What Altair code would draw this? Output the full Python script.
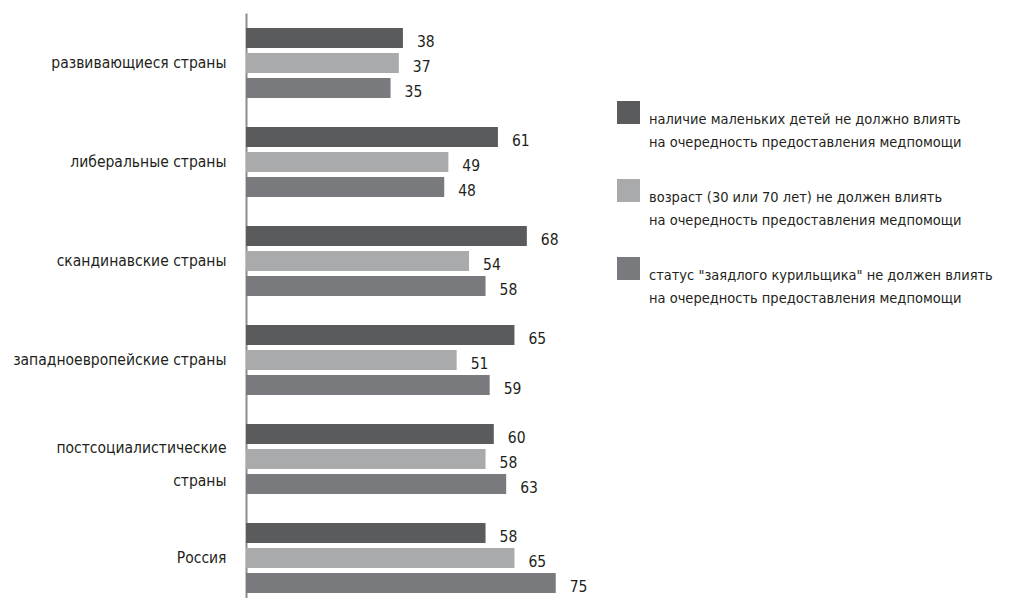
import altair as alt
import pandas as pd

categories = [
    "развивающиеся страны",
    "либеральные страны",
    "скандинавские страны",
    "западноевропейские страны",
    "постсоциалистические страны",
    "Россия",
]
series = [
    "наличие маленьких детей не должно влиять|на очередность предоставления медпомощи",
    "возраст (30 или 70 лет) не должен влиять|на очередность предоставления медпомощи",
    "статус \"заядлого курильщика\" не должен влиять|на очередность предоставления медпомощи",
]
children = [38, 61, 68, 65, 60, 58]
age = [37, 49, 54, 51, 58, 65]
smoker = [35, 48, 58, 59, 63, 75]
colors = ["#595b5d", "#a8aaac", "#787a7d"]

rows = []
for i, c in enumerate(categories):
    for s, vals in zip(series, [children, age, smoker]):
        rows.append({"cat": c, "series": s, "value": vals[i]})
df = pd.DataFrame(rows)

FONT = "Liberation Sans Narrow, DejaVu Sans Condensed, Liberation Sans, sans-serif"
TXT = "#231f20"

y_enc = alt.Y(
    "cat:N",
    sort=categories,
    scale=alt.Scale(paddingInner=0.2424, paddingOuter=0.126),
    axis=alt.Axis(
        title=None,
        ticks=False,
        grid=False,
        domainColor="#8c8c8c",
        domainWidth=2,
        labelPadding=20,
        labelFontSize=15.5,
        labelFont=FONT,
        labelColor=TXT,
        labelLimit=400,
        labelLineHeight=33,
        labelOffset={
            "condition": {"test": "datum.label == 'постсоциалистические страны'", "value": -11},
            "value": 0,
        },
        labelExpr="datum.label == 'постсоциалистические страны' ? ['постсоциалистические', 'страны'] : datum.label",
    ),
)
yoff = alt.YOffset(
    "series:N",
    sort=series,
    scale=alt.Scale(paddingInner=0.2, paddingOuter=0.1),
)
x_enc = alt.X("value:Q", scale=alt.Scale(domain=[0, 100]), axis=None)

bars = alt.Chart(df).mark_bar().encode(
    y=y_enc,
    yOffset=yoff,
    x=x_enc,
    color=alt.Color(
        "series:N",
        sort=series,
        scale=alt.Scale(domain=series, range=colors),
        legend=alt.Legend(
            title=None,
            orient="none",
            legendX=371,
            legendY=88,
            symbolType="square",
            symbolSize=529,
            symbolStrokeWidth=0,
            labelFont=FONT,
            labelFontSize=14.5,
            labelColor=TXT,
            labelLimit=500,
            labelOffset=9,
            labelBaseline="top",
            rowPadding=30,
            padding=0,
            labelExpr="split(datum.label, '|')",
        ),
    ),
)

labels = alt.Chart(df).mark_text(
    align="left", baseline="middle", dx=14, dy=4, fontSize=15.5, font=FONT, color=TXT
).encode(
    y=alt.Y("cat:N", sort=categories),
    yOffset=alt.YOffset("series:N", sort=series),
    x="value:Q",
    text="value:Q",
)

chart = (
    alt.layer(bars, labels)
    .properties(
        width=413,
        height=595,
        autosize=alt.AutoSizeParams(type="none"),
        padding={"left": 238, "top": 5, "right": 346, "bottom": 5},
    )
    .configure(background="white", style={"guide-label": {"lineHeight": 23}})
    .configure_view(stroke="transparent", strokeWidth=0)
)

chart.save("out.html", embed_options={"renderer": "svg", "actions": False})
